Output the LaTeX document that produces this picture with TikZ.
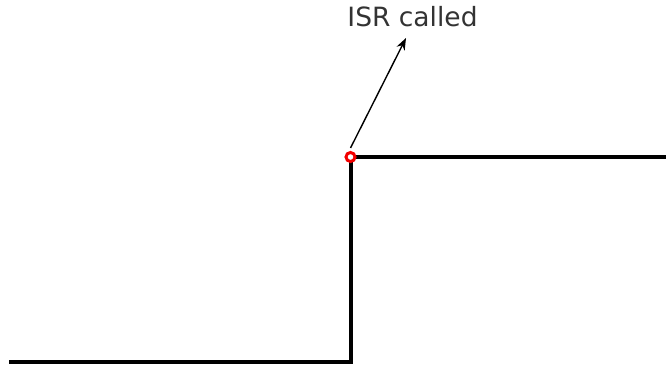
\documentclass[tikz,border=0pt]{standalone}
\usepackage{fontspec}
\setmainfont{DejaVu Sans}
\usetikzlibrary{arrows.meta}
\begin{document}
\begin{tikzpicture}[x=1pt,y=1pt,
  signal/.style={line width=4pt, line join=miter},
  marker/.style={circle, draw=red!95!black, fill=white, line width=3pt, minimum size=9pt, inner sep=0pt},
  callout/.style={line width=1.4pt, -{Stealth[length=12pt,width=9pt]}},
  lbl/.style={font=\fontsize{26.5}{32}\selectfont, text=black!80}]
\useasboundingbox (0,0) rectangle (666,364);
\coordinate (s0) at (9,2);
\coordinate (s1) at (350.5,2);
\coordinate (s2) at (350.5,207);
\coordinate (s3) at (670,207);
\draw[signal] (s0) -- (s1) -- (s2) -- (s3);
\node[marker] (isr) at (s2) {};
\node[lbl, anchor=base] (txt) at (412.5,337) {ISR called};
\coordinate (tip) at (406,326);
\draw[callout] (isr.north) ++(0,3) -- (tip);
\end{tikzpicture}
\end{document}
